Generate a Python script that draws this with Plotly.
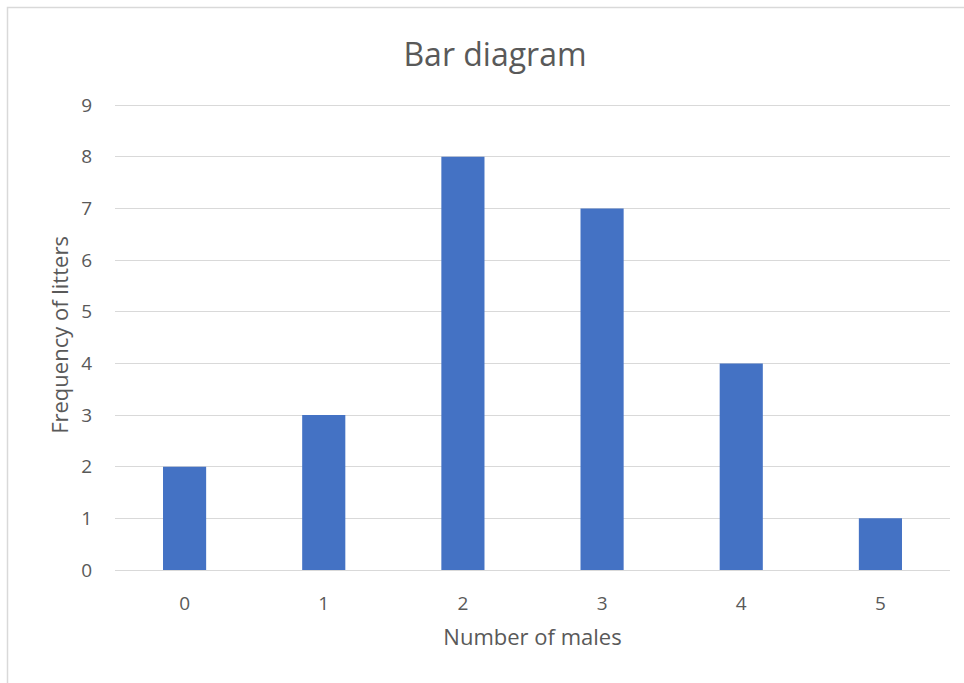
import plotly.graph_objects as go

categories = ["0", "1", "2", "3", "4", "5"]
frequencies = [2, 3, 8, 7, 4, 1]
y_ticks = [0, 1, 2, 3, 4, 5, 6, 7, 8, 9]

W, H = 964, 683
L, R, T, B = 115, 14, 100, 113
pw, ph = W - L - R, H - T - B

def px_x(x):
    return (x - L) / pw

def px_y(y):
    return 1 - (y - T) / ph

FONT = "Open Sans"
TXT = "#595959"

fig = go.Figure(go.Bar(
    x=categories, y=frequencies, marker_color="#4472C4",
    marker_line_width=0, width=0.31,
))

fig.update_layout(
    width=W, height=H,
    margin=dict(l=L, r=R, t=T, b=B),
    paper_bgcolor="white", plot_bgcolor="white",
    font=dict(family=FONT, color=TXT),
    title=dict(text="Bar diagram", x=px_x(495), xref="paper", xanchor="center",
               y=1 - 55 / H, yanchor="middle",
               font=dict(size=32, color=TXT, family=FONT)),
    showlegend=False,
    xaxis=dict(type="category", range=[-0.5, 5.5], showgrid=False,
               showline=False, ticks="", tickfont=dict(size=19, color=TXT),
               ticklabelstandoff=20,
               title=dict(text="Number of males", font=dict(size=22, color=TXT), standoff=14)),
    yaxis=dict(range=[0, 9.1], tickvals=y_ticks, showgrid=True, gridcolor="#D9D9D9",
               gridwidth=1, zeroline=True, zerolinecolor="#D9D9D9", zerolinewidth=1,
               showline=False, ticks="", tickfont=dict(size=19, color=TXT),
               ticklabelstandoff=22,
               title=dict(text="Frequency of litters", font=dict(size=22, color=TXT), standoff=6)),
    shapes=[dict(type="rect", xref="paper", yref="paper",
                 x0=px_x(7.5), y0=px_y(700), x1=px_x(990), y1=px_y(7.5),
                 line=dict(color="#D9D9D9", width=1.5), layer="below")],
)

fig.write_html("out.html", config={"displayModeBar": False},
               post_script="document.body.style.margin='0';")
